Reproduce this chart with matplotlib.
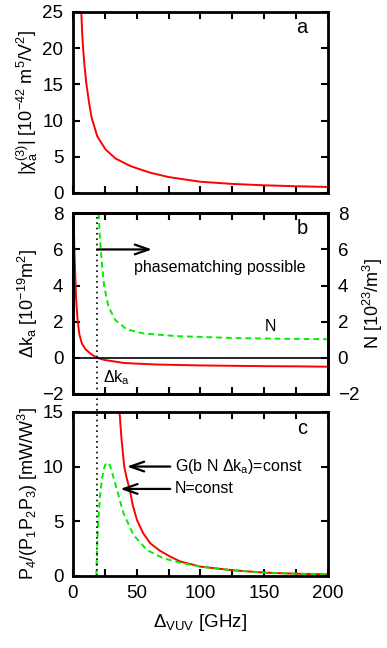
#!/usr/bin/env python
"""
Three stacked panels vs. VUV detuning
"""
import matplotlib
matplotlib.use('Agg')
import matplotlib.pyplot as plt
from matplotlib import transforms

plt.rcParams['font.family'] = ['Liberation Sans', 'DejaVu Sans']
plt.rcParams['mathtext.fontset'] = 'custom'
plt.rcParams['mathtext.rm'] = 'Liberation Sans'
plt.rcParams['mathtext.it'] = 'Liberation Sans:italic'
plt.rcParams['mathtext.default'] = 'rm'

# panel a: |chi3| vs detuning
chi_x = [6.5, 7.3, 8.1, 9.1, 10.4, 12.5, 14.6, 19.1, 25.6, 33.4, 45.2, 60.6, 75, 100, 125, 150, 175, 200]
chi_y = [25, 21.8, 19.6, 17.5, 15.2, 12.6, 10.4, 7.8, 6.0, 4.76, 3.7, 2.8, 2.2, 1.55, 1.25, 1.06, 0.93, 0.83]

# panel b: phase mismatch and density
dk_x = [0.5, 1.0, 1.8, 2.5, 3.6, 5, 7, 9.5, 13.6, 18.8, 25, 39.7, 50, 65.9, 80, 100, 125, 150, 175, 200]
dk_y = [8, 6.2, 4.5, 3.2, 2.1, 1.3, 0.79, 0.5, 0.24, 0.0, -0.12, -0.28, -0.32, -0.37, -0.39, -0.42, -0.44, -0.46, -0.47, -0.49]
n_x = [20.1, 21.4, 22.7, 24.5, 27.9, 33.2, 42.3, 55.4, 81.5, 100, 125, 150, 175, 200]
n_y = [8, 6.33, 5.22, 3.93, 2.82, 2.09, 1.57, 1.35, 1.2, 1.16, 1.10, 1.07, 1.05, 1.03]

# panel c: normalised VUV power
pg_x = [36.5, 38, 40.2, 42, 44.4, 47, 50.2, 55, 60.6, 68, 76.3, 84.2, 100, 125, 150, 175, 200]
pg_y = [15, 12.6, 10, 9.0, 7.95, 6.4, 5.1, 3.9, 2.97, 2.3, 1.74, 1.3, 0.83, 0.5, 0.28, 0.18, 0.12]
pn_x = [18.3, 18.8, 19.6, 20.5, 21.4, 22.7, 24, 25.5, 27.2, 29, 30.6, 34.5, 39.7, 47.5, 58, 71, 84.2, 100, 125, 150, 175, 200]
pn_y = [0, 2.3, 4.5, 6.2, 7.55, 8.8, 9.7, 10.2, 10.37, 10.1, 9.5, 7.86, 5.7, 3.73, 2.35, 1.59, 1.19, 0.82, 0.5, 0.28, 0.18, 0.12]

x_pm = 18.6
red, green = '#ff0000', '#00ee00'
fs_tick, fs_lab, fs_txt = 13.5, 13, 11.5
arrow = dict(arrowstyle='->, head_length=1.0, head_width=0.35', color='k', lw=1.6,
             shrinkA=0, shrinkB=0)

fig = plt.figure(figsize=(3.87, 6.48), dpi=100)
left, width = 0.1886, 0.6589
ax_a = fig.add_axes([left, 0.7022, width, 0.2793])
ax_b = fig.add_axes([left, 0.3920, width, 0.2788])
ax_c = fig.add_axes([left, 0.1116, width, 0.2526])


def style(ax, labels_x=False):
    for s in ax.spines.values():
        s.set_linewidth(2.0)
    ax.set_xlim(0, 200)
    ax.set_xticks(range(0, 201, 25))
    if labels_x:
        ax.set_xticklabels([str(v) if v % 50 == 0 else '' for v in range(0, 201, 25)])
    else:
        ax.set_xticklabels([])
    ax.tick_params(direction='in', top=True, right=True, length=5, width=1.5,
                   labelsize=fs_tick, pad=7)


def place_ylabel(ax, xfrac):
    ax.yaxis.set_label_coords(xfrac, 0.5)
    ax.yaxis.label.set_verticalalignment('center')


# panel a
ax_a.plot(chi_x, chi_y, color=red, lw=1.4)
ax_a.set_ylim(0, 25)
ax_a.set_yticks(range(0, 26, 5))
style(ax_a)
ax_a.set_ylabel(r'|$\chi_{\rm a}^{(3)}$| [10$^{-42}$ m$^5$/V$^2$]', fontsize=fs_lab)
place_ylabel(ax_a, -0.177)
ax_a.text(179.6, 22.9, 'a', fontsize=14.5, ha='center', va='center')

# panel b
ax_b.plot(dk_x, dk_y, color=red, lw=1.4)
ax_b.axhline(0, color='k', lw=1.2)
ax_b.set_ylim(-2, 8)
ax_b.set_yticks(range(-2, 9, 2))
style(ax_b)
ax_b.tick_params(right=False)
ax_b.set_ylabel(r'$\Delta$k$_{\rm a}$ [10$^{-19}$m$^2$]', fontsize=fs_lab)
place_ylabel(ax_b, -0.177)
ax_n = ax_b.twinx()
ax_n.plot(n_x, n_y, color=green, lw=1.4, ls=(0, (3, 2)))
ax_n.set_ylim(-2, 8)
ax_n.set_yticks(range(-2, 9, 2))
ax_n.tick_params(direction='in', length=5, width=1.5, labelsize=fs_tick, pad=7)
ax_n.set_ylabel(r'N [10$^{23}$/m$^3$]', fontsize=fs_lab)
place_ylabel(ax_n, 1.178)
for s in ax_n.spines.values():
    s.set_linewidth(2.0)
ax_b.annotate('', xy=(62, 6), xytext=(18.8, 6), arrowprops=arrow)
ax_b.text(47.5, 5.0, 'phasematching possible', fontsize=fs_txt, va='center')
ax_b.text(154.5, 1.75, 'N', fontsize=fs_txt, ha='center', va='center')
ax_b.text(23.5, -1.1, r'$\Delta$k$_{\rm a}$', fontsize=fs_txt, va='center')
ax_b.text(179.6, 7.16, 'b', fontsize=14.5, ha='center', va='center')

# panel c
ax_c.plot(pg_x, pg_y, color=red, lw=1.4)
ax_c.plot(pn_x, pn_y, color=green, lw=1.4, ls=(0, (3, 2)))
ax_c.set_ylim(0, 15)
ax_c.set_yticks(range(0, 16, 5))
style(ax_c, labels_x=True)
ax_c.set_ylabel(r'P$_4$/(P$_1$P$_2$P$_3$) [mW/W$^3$]', fontsize=fs_lab)
place_ylabel(ax_c, -0.177)
ax_c.set_xlabel(r'$\Delta_{\rm VUV}$ [GHz]', fontsize=13.5, labelpad=7)
for ytip, xtip, label in [(10, 42.3, r'G(b N $\Delta$k$_{\rm a}$)=const'),
                          (7.95, 37.1, 'N=const')]:
    ax_c.annotate('', xy=(xtip, ytip), xytext=(76.3, ytip), arrowprops=arrow)
    ax_c.text(80.2, ytip, label, fontsize=fs_txt, va='center')
ax_c.text(179.6, 13.5, 'c', fontsize=14.5, ha='center', va='center')

# dotted line through panels b and c
tr = transforms.blended_transform_factory(ax_c.transData, fig.transFigure)
fig.add_artist(plt.Line2D([x_pm, x_pm], [0.1116, 0.6708], transform=tr,
                          color='k', lw=1.2, ls=(0, (1, 2.2))))

fig.savefig('out.png', dpi=100)
